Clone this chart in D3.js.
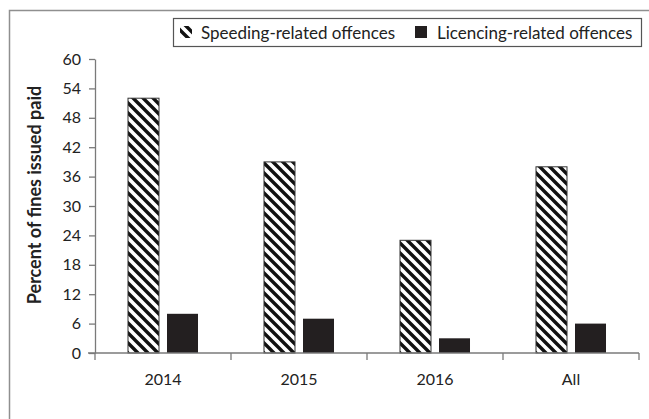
<!DOCTYPE html>
<html>
<head>
<meta charset="utf-8">
<script src="https://cdn.jsdelivr.net/npm/d3@7"></script>
<style>
  html, body { margin: 0; padding: 0; background: #fff; }
  svg { display: block; font-family: Lato, "Open Sans", sans-serif; }
</style>
</head>
<body>
<svg id="chart" width="649" height="419"></svg>
<script>
// Categories along the x axis
const categories = ["2014", "2015", "2016", "All"];
// Series names (legend order)
const seriesNames = ["Speeding-related offences", "Licencing-related offences"];
// Percent of fines issued that were paid
const speedingValues = [52, 39, 23, 38];
const licencingValues = [8, 7, 3, 6];
// Y axis ticks
const yTicks = [0, 6, 12, 18, 24, 30, 36, 42, 48, 54, 60];

const svg = d3.select("#chart");
const W = 649, H = 419;
const plot = { left: 95, right: 639, top: 59, bottom: 353 };
const axisColor = "#7a7a7a";

// Outer frame (extends past the right and bottom edges)
svg.append("rect")
  .attr("x", 9.5).attr("y", 10.5)
  .attr("width", W + 20).attr("height", H + 20)
  .attr("fill", "none").attr("stroke", "#8f8f8f").attr("stroke-width", 1.5);

// Diagonal hatch pattern
const defs = svg.append("defs");
const pat = defs.append("pattern")
  .attr("id", "hatch")
  .attr("patternUnits", "userSpaceOnUse")
  .attr("width", 10).attr("height", 10);
pat.append("rect").attr("width", 10).attr("height", 10).attr("fill", "#fff");
pat.append("path")
  .attr("d", "M-5,5 L5,15 M0,0 L10,10 M5,-5 L15,5")
  .attr("stroke", "#111").attr("stroke-width", 3.4);

const x0 = d3.scaleBand().domain(categories).range([plot.left, plot.right]);
const x1 = d3.scaleBand().domain(seriesNames)
  .range([0, x0.bandwidth()])
  .paddingInner(8 / 39).paddingOuter(0.846);
const y = d3.scaleLinear().domain([0, 60]).range([plot.bottom, plot.top]);

const rows = categories.map((c, i) => ({
  cat: c,
  vals: [
    { s: seriesNames[0], v: speedingValues[i] },
    { s: seriesNames[1], v: licencingValues[i] }
  ]
}));

const fills = { [seriesNames[0]]: "url(#hatch)", [seriesNames[1]]: "#231f20" };

// Bars
const g = svg.append("g");
g.selectAll("g.grp").data(rows).join("g")
  .attr("class", "grp")
  .attr("transform", d => `translate(${x0(d.cat)},0)`)
  .selectAll("rect").data(d => d.vals).join("rect")
  .attr("x", d => x1(d.s))
  .attr("y", d => y(d.v))
  .attr("width", x1.bandwidth())
  .attr("height", d => y(0) - y(d.v))
  .attr("fill", d => fills[d.s])
  .attr("stroke", d => d.s === seriesNames[0] ? "#333" : "none")
  .attr("stroke-width", 1);

// Y axis
const yAxis = svg.append("g")
  .attr("transform", `translate(${plot.left},0)`)
  .call(d3.axisLeft(y).tickValues(yTicks).tickSize(6).tickPadding(8).tickSizeOuter(0));
yAxis.select(".domain").attr("stroke", axisColor).attr("stroke-width", 1.3);
yAxis.selectAll(".tick line").attr("stroke", axisColor).attr("stroke-width", 1.3);
yAxis.selectAll(".tick text")
  .attr("fill", "#222").style("font-size", "16px")
  .style("font-family", "Lato, 'Open Sans', sans-serif");

// X axis: ticks at category boundaries, labels centered
const xAxisG = svg.append("g").attr("transform", `translate(0,${plot.bottom})`);
xAxisG.append("line")
  .attr("x1", plot.left - 7).attr("x2", plot.right)
  .attr("stroke", axisColor).attr("stroke-width", 1.3);
const bounds = categories.map(c => x0(c)).concat([plot.right]);
xAxisG.selectAll("line.tk").data(bounds).join("line")
  .attr("class", "tk")
  .attr("x1", d => d).attr("x2", d => d)
  .attr("y1", 0).attr("y2", 7)
  .attr("stroke", axisColor).attr("stroke-width", 1.3);
xAxisG.selectAll("text").data(categories).join("text")
  .attr("x", d => x0(d) + x0.bandwidth() / 2)
  .attr("y", 32)
  .attr("text-anchor", "middle")
  .attr("fill", "#222").style("font-size", "16px")
  .text(d => d);

// Y axis title
svg.append("text")
  .attr("transform", `translate(41,195) rotate(-90)`)
  .attr("text-anchor", "middle")
  .attr("font-weight", "bold")
  .attr("fill", "#222").style("font-size", "18px")
  .text("Percent of fines issued paid");

// Legend
const leg = svg.append("g");
leg.append("rect")
  .attr("x", 173.5).attr("y", 18.5).attr("width", 468).attr("height", 28)
  .attr("fill", "#fff").attr("stroke", "#555").attr("stroke-width", 1.2);
const legItems = [
  { s: seriesNames[0], x: 180, tx: 201 },
  { s: seriesNames[1], x: 415, tx: 437 }
];
legItems.forEach(it => {
  leg.append("rect")
    .attr("x", it.x).attr("y", 26).attr("width", 12).attr("height", 12)
    .attr("fill", fills[it.s]);
  leg.append("text")
    .attr("x", it.tx).attr("y", 38.5)
    .attr("fill", "#222").style("font-size", "17px")
    .text(it.s);
});
</script>
</body>
</html>
